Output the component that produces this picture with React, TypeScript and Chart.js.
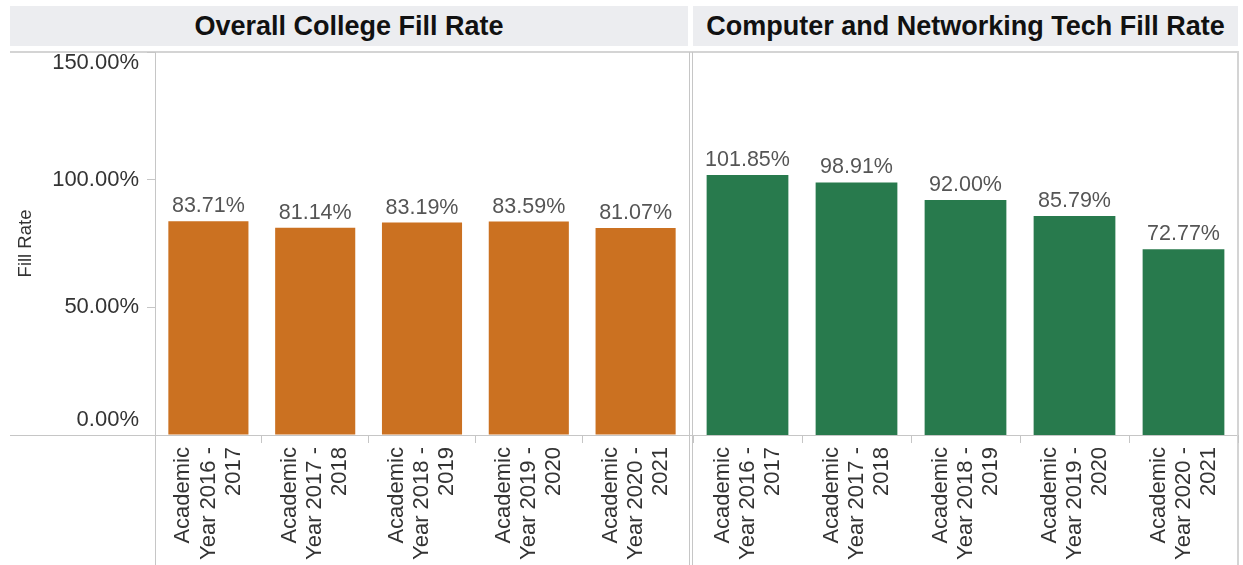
import React, { useEffect, useRef } from "react";
import { Chart, registerables } from "chart.js";

Chart.register(...registerables);

const categories: string[][] = [
  ["Academic", "Year 2016 -", "2017"],
  ["Academic", "Year 2017 -", "2018"],
  ["Academic", "Year 2018 -", "2019"],
  ["Academic", "Year 2019 -", "2020"],
  ["Academic", "Year 2020 -", "2021"],
];
const collegeFillRate = [83.71, 81.14, 83.19, 83.59, 81.07];
const cntFillRate = [101.85, 98.91, 92.0, 85.79, 72.77];
const yMin = 0;
const yMax = 150;
const yStep = 50;
const panelTitles = ["Overall College Fill Rate", "Computer and Networking Tech Fill Rate"];
const yAxisTitle = "Fill Rate";

const FONT = "'Liberation Sans', Arial, sans-serif";
const ORANGE = "#CB7121";
const GREEN = "#287A4D";
const LINE = "#c6c6c6";

const fmt = (v: number) => v.toFixed(2) + "%";

const dataLabelPlugin = {
  id: "dataLabels",
  afterDatasetsDraw(chart: any) {
    const ctx = chart.ctx;
    const meta = chart.getDatasetMeta(0);
    const data = chart.data.datasets[0].data as number[];
    ctx.save();
    ctx.font = `21.5px ${FONT}`;
    ctx.fillStyle = "#555555";
    ctx.textAlign = "center";
    ctx.textBaseline = "alphabetic";
    meta.data.forEach((bar: any, i: number) => {
      ctx.fillText(fmt(data[i]), bar.x, bar.y - 9);
    });
    ctx.restore();
  },
};

const yLabelPlugin = {
  id: "yLabels",
  afterDraw(chart: any) {
    const scale = chart.scales.y;
    if (!scale || !scale.options.display) return;
    const ctx = chart.ctx;
    ctx.save();
    ctx.font = `22px ${FONT}`;
    ctx.fillStyle = "#333333";
    ctx.textAlign = "right";
    ctx.textBaseline = "middle";
    scale.ticks.forEach((t: any) => {
      let y = scale.getPixelForValue(t.value);
      if (t.value === scale.max) y += 11;
      if (t.value === scale.min) y -= 15;
      ctx.fillText(fmt(t.value), chart.chartArea.left - 16, y);
    });
    ctx.restore();
  },
};

function Panel({ values, color, showY, width, height }: { values: number[]; color: string; showY: boolean; width: number; height: number }) {
  const ref = useRef<HTMLCanvasElement | null>(null);
  useEffect(() => {
    if (!ref.current) return;
    const chart = new Chart(ref.current, {
      type: "bar",
      data: {
        labels: categories,
        datasets: [
          {
            data: values,
            backgroundColor: color,
            borderWidth: 0,
            barPercentage: 0.75,
            categoryPercentage: 1,
          },
        ],
      },
      options: {
        responsive: false,
        animation: false,
        layout: { padding: { left: showY ? 0 : 1, right: 1, top: 0, bottom: 0 } },
        plugins: { legend: { display: false }, tooltip: { enabled: false }, title: { display: false } },
        scales: {
          x: {
            type: "category",
            offset: true,
            grid: { display: true, drawOnChartArea: false, drawTicks: true, tickLength: 8, color: LINE, offset: true },
            border: { display: false },
            ticks: {
              autoSkip: false,
              minRotation: 90,
              maxRotation: 90,
              labelOffset: -25,
              padding: 4,
              color: "#333333",
              font: { family: FONT, size: 22, lineHeight: 1.14 },
            },
            afterFit: (s: any) => {
              s.height = 130;
              s.paddingLeft = 0;
              s.paddingRight = 0;
            },
          },
          y: {
            display: showY,
            min: yMin,
            max: yMax,
            ticks: { stepSize: yStep, display: false },
            grid: { display: true, drawOnChartArea: false, drawTicks: true, tickLength: 8, color: LINE },
            border: { display: false },
            title: {
              display: true,
              text: yAxisTitle,
              color: "#333333",
              font: { family: FONT, size: 18.5 },
              padding: { top: 5, bottom: 0 },
            },
            afterFit: (s: any) => {
              s.width = showY ? 145 : 0;
            },
          },
        },
      } as any,
      plugins: [dataLabelPlugin, yLabelPlugin],
    });
    return () => chart.destroy();
  }, []);
  return <canvas ref={ref} width={width} height={height} style={{ width, height, display: "block" }} />;
}

const abs = (left: number, top: number, width: number, height: number, extra: any = {}) => ({
  position: "absolute" as const,
  left,
  top,
  width,
  height,
  ...extra,
});

export default function App() {
  const headerStyle = {
    background: "#ECEDF0",
    color: "#111",
    fontFamily: FONT,
    fontWeight: 700,
    fontSize: 27,
    display: "flex",
    alignItems: "center",
    justifyContent: "center",
    whiteSpace: "nowrap" as const,
  };
  return (
    <div style={{ position: "fixed", left: 0, top: 0, width: 1243, height: 565, background: "#fff", overflow: "hidden" }}>
      <div style={abs(10, 6, 678, 40, headerStyle)}>{panelTitles[0]}</div>
      <div style={abs(693, 6, 545, 40, headerStyle)}>{panelTitles[1]}</div>

      {/* panel frame lines */}
      <div style={abs(10, 51, 1229, 2, { background: "#d4d4d4" })} />
      <div style={abs(10, 435, 1229, 1, { background: LINE })} />
      <div style={abs(155, 52, 1, 513, { background: LINE })} />
      <div style={abs(689, 52, 1, 513, { background: LINE })} />
      <div style={abs(692, 52, 1, 513, { background: LINE })} />
      <div style={abs(1237, 52, 2, 513, { background: "#d4d4d4" })} />

      <div style={abs(10, 52, 680, 513)}>
        <Panel values={collegeFillRate} color={ORANGE} showY={true} width={680} height={513} />
      </div>
      <div style={abs(692, 52, 547, 513)}>
        <Panel values={cntFillRate} color={GREEN} showY={false} width={547} height={513} />
      </div>
    </div>
  );
}
